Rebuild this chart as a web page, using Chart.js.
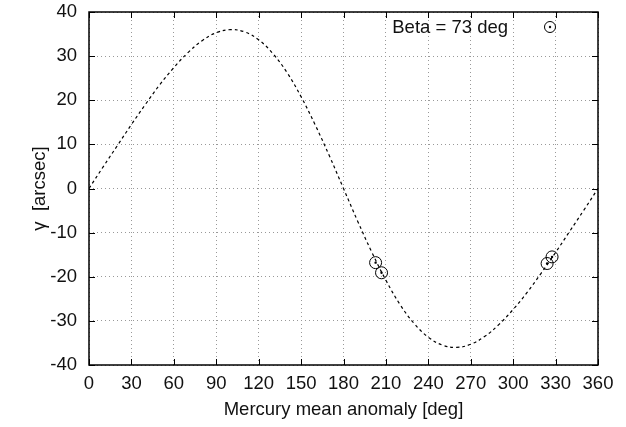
<!DOCTYPE html>
<html>
<head>
<meta charset="utf-8">
<script src="https://cdn.jsdelivr.net/npm/chart.js@4"></script>
<style>
  html, body { margin: 0; padding: 0; background: #fff; }
  #wrap { width: 626px; height: 427px; position: relative; }
</style>
</head>
<body>
<div id="wrap"><canvas id="gammaChart"></canvas></div>
<script>
// Model curve, every 10 deg
const anomaly = [0, 10, 20, 30, 40, 50, 60, 70, 80, 90, 100, 110, 120, 130, 140, 150, 160, 170, 180,
                 190, 200, 210, 220, 230, 240, 250, 260, 270, 280, 290, 300, 310, 320, 330, 340, 350, 360];
const gamma = [0, 4.9, 9.7, 14.5, 19.1, 23.5, 27.4, 30.8, 33.5, 35.3, 36.0, 35.5, 33.7, 30.6, 26.3, 20.8, 14.4, 7.4, 0,
               -7.4, -14.4, -20.8, -26.3, -30.6, -33.7, -35.5, -36.0, -35.3, -33.5, -30.8, -27.4, -23.5, -19.1, -14.5, -9.7, -4.9, 0];

// Observed points
const obsAnomaly = [202.7, 206.9, 324.0, 327.5];
const obsGamma = [-16.8, -19.1, -17.0, -15.5];

const legendLabel = 'Beta = 73 deg';
const xTitle = 'Mercury mean anomaly [deg]';
const yTitle = 'γ  [arcsec]';

const FONT = "'Liberation Sans', Arial, sans-serif";
const FSIZE = 18.5;

const curvePts = anomaly.map((a, i) => ({ x: a, y: gamma[i] }));
const obsPts = obsAnomaly.map((a, i) => ({ x: a, y: obsGamma[i] }));

// frame, inward ticks (gnuplot style) and the in-plot key
const framePlugin = {
    id: 'frame',
    afterDraw(chart) {
        const { ctx, chartArea: a, scales: { x, y } } = chart;
        ctx.save();
        ctx.strokeStyle = '#000';
        ctx.lineWidth = 1;
        ctx.beginPath();
        x.ticks.forEach(t => {
            const px = Math.round(x.getPixelForValue(t.value)) + 0.5;
            ctx.moveTo(px, a.bottom); ctx.lineTo(px, a.bottom - 6);
            ctx.moveTo(px, a.top); ctx.lineTo(px, a.top + 6);
        });
        y.ticks.forEach(t => {
            const py = Math.round(y.getPixelForValue(t.value)) + 0.5;
            ctx.moveTo(a.left, py); ctx.lineTo(a.left + 6, py);
            ctx.moveTo(a.right, py); ctx.lineTo(a.right - 6, py);
        });
        ctx.stroke();

        ctx.lineWidth = 1.5;
        ctx.strokeRect(a.left, a.top, a.right - a.left, a.bottom - a.top);

        // key
        ctx.fillStyle = '#111';
        ctx.font = FSIZE + 'px ' + FONT;
        ctx.textAlign = 'right';
        ctx.textBaseline = 'alphabetic';
        ctx.fillText(legendLabel, a.right - 90, a.top + 21);
        ctx.lineWidth = 1;
        ctx.beginPath();
        ctx.arc(a.right - 48, a.top + 15, 5.5, 0, Math.PI * 2);
        ctx.stroke();
        ctx.beginPath();
        ctx.arc(a.right - 48, a.top + 15, 1.2, 0, Math.PI * 2);
        ctx.fill();
        ctx.restore();
    }
};

Chart.defaults.font.family = FONT;
Chart.defaults.color = '#111';

new Chart(document.getElementById('gammaChart'), {
    type: 'scatter',
    data: {
        datasets: [
            {
                data: obsPts,
                pointStyle: 'circle',
                pointRadius: 6,
                pointBorderColor: '#000',
                pointBackgroundColor: 'rgba(0,0,0,0)',
                pointBorderWidth: 1
            },
            {
                data: obsPts,
                pointRadius: 1.2,
                pointBorderWidth: 0,
                pointBackgroundColor: '#000'
            },
            {
                data: curvePts,
                showLine: true,
                borderColor: '#000',
                borderWidth: 1.2,
                borderDash: [3, 3],
                pointRadius: 0,
                tension: 0.4,
                fill: false
            }
        ]
    },
    options: {
        responsive: true,
        maintainAspectRatio: false,
        animation: false,
        events: [],
        layout: { padding: { top: 12, right: 28, left: 0, bottom: 0 } },
        plugins: {
            legend: { display: false },
            tooltip: { enabled: false }
        },
        scales: {
            x: {
                type: 'linear',
                min: 0,
                max: 360,
                afterFit(scale) { scale.height = 62; },
                ticks: {
                    stepSize: 30,
                    padding: 8,
                    maxRotation: 0,
                    color: '#111',
                    font: { size: FSIZE }
                },
                grid: {
                    color: '#999',
                    lineWidth: 1,
                    drawTicks: false,
                    borderDash: [1, 3]
                },
                border: { display: false, dash: [1, 3] },
                title: {
                    display: true,
                    text: xTitle,
                    color: '#111',
                    font: { size: FSIZE },
                    padding: { top: 0, bottom: 6 }
                }
            },
            y: {
                min: -40,
                max: 40,
                afterFit(scale) {
                    scale.width = 89;
                    scale.paddingTop = 0;
                    scale.paddingBottom = 0;
                },
                ticks: {
                    stepSize: 10,
                    padding: 12,
                    color: '#111',
                    font: { size: FSIZE }
                },
                grid: {
                    color: '#999',
                    lineWidth: 1,
                    drawTicks: false,
                    borderDash: [1, 3]
                },
                border: { display: false, dash: [1, 3] },
                title: {
                    display: true,
                    text: yTitle,
                    color: '#111',
                    font: { size: FSIZE },
                    padding: { top: 29, bottom: 0 }
                }
            }
        }
    },
    plugins: [framePlugin]
});
</script>
</body>
</html>
